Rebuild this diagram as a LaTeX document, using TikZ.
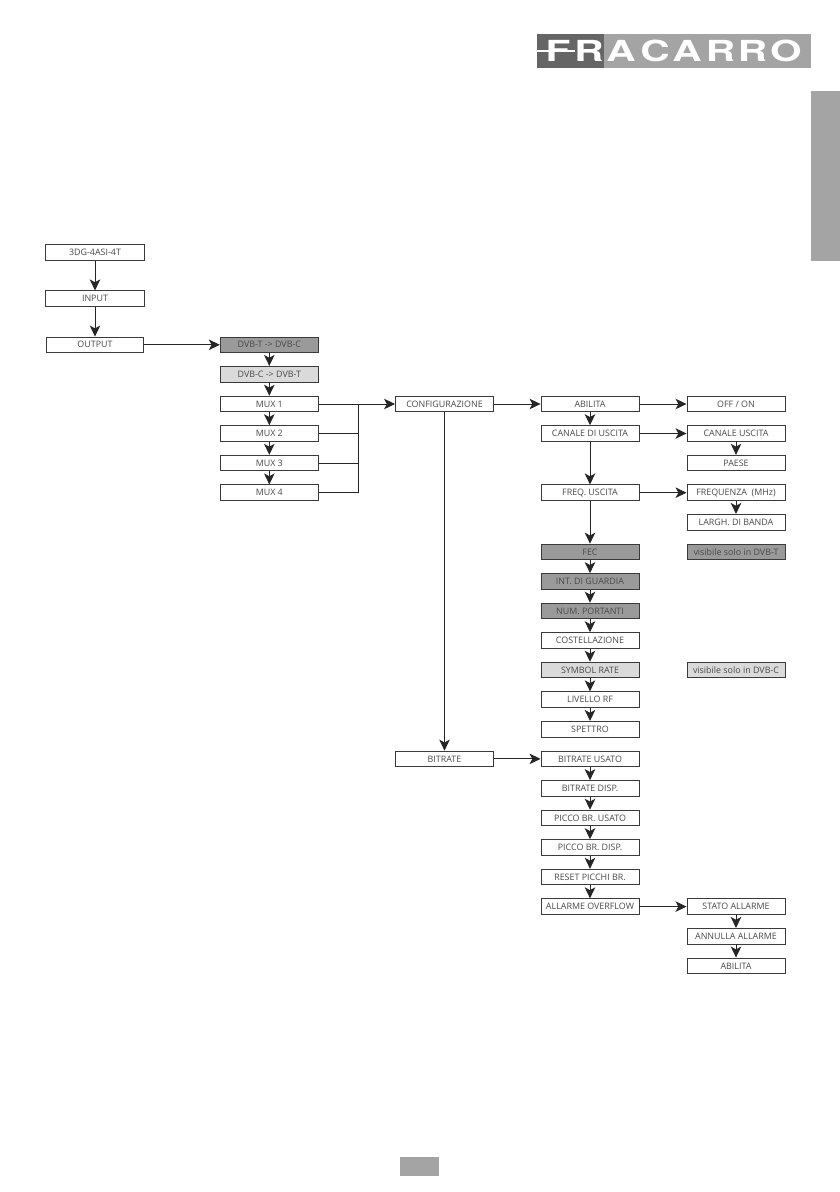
\documentclass[tikz,border=0pt]{standalone}
\usepackage{fontspec}
\setmainfont{Open Sans}
\newfontfamily\logofont{TeX Gyre Heros}
\usetikzlibrary{arrows.meta}
\definecolor{tabgray}{HTML}{A5A4A4}
\definecolor{logodark}{HTML}{666565}
\definecolor{boxline}{HTML}{3A3A3A}
\definecolor{boxtext}{HTML}{4A4A4A}
\definecolor{tgray}{HTML}{9A9A9A}
\definecolor{cgray}{HTML}{DADADA}
\tikzset{
	menubox/.style={draw=boxline, line width=0.9pt, fill=white, text=boxtext, font=\fontsize{8.9}{10}\selectfont, minimum width=98pt, minimum height=15.6pt, inner sep=0pt},
	tbox/.style={menubox, fill=tgray},
	cbox/.style={menubox, fill=cgray},
	wire/.style={draw=black!85, line width=1pt},
	link/.style={wire, -{Stealth[length=11pt, width=10.5pt, inset=2.8pt]}},
	logoletter/.style={text=white, font=\logofont\bfseries\fontsize{29}{29}\selectfont, inner sep=0pt, xscale=1.4}
}
\begin{document}
\begin{tikzpicture}[x=1pt, y=-1pt]
	\useasboundingbox (0, 0) rectangle (840, 1192);
	%%%%% PAGE %%%%%
	\fill[tabgray] (537, 34) rectangle (810.7, 67.7);
	\fill[logodark] (537, 34) rectangle (604, 67.7);
	\foreach \xpos/\letter in {558/F, 589/R, 621/A, 655/C, 687/A, 720.5/R, 752.5/R, 786/O}
		\node[logoletter] at (\xpos, 51.3) {\letter};
	\fill[white] (537, 49.7) rectangle (575, 52.3);
	\fill[tabgray] (811, 91) rectangle (840, 260.7);
	\fill[tabgray] (400, 1157) rectangle (438.7, 1176);

	%%%%% FIRST COLUMN %%%%%
	\node[menubox, minimum width=99.5pt] (model) at (95, 252.4) {3DG-4ASI-4T};
	\node[menubox, minimum width=99.5pt] (input) at (95, 298.7) {INPUT};
	\node[menubox, minimum width=97.5pt] (output) at (95, 344.8) {OUTPUT};

	%%%%% SECOND COLUMN %%%%%
	\node[tbox] (tc) at (269.3, 344.8) {DVB-T -> DVB-C};
	\node[cbox] (ct) at (269.3, 374.2) {DVB-C -> DVB-T};
	\node[menubox] (muxa) at (269.3, 404) {MUX 1};
	\node[menubox] (muxb) at (269.3, 433.5) {MUX 2};
	\node[menubox] (muxc) at (269.3, 463.1) {MUX 3};
	\node[menubox] (muxd) at (269.3, 492.7) {MUX 4};

	%%%%% THIRD COLUMN %%%%%
	\node[menubox] (config) at (444.5, 404) {CONFIGURAZIONE};
	\node[menubox] (bitrate) at (444.5, 758.9) {BITRATE};
	\coordinate (bus) at (358, 404);

	%%%%% FOURTH COLUMN %%%%%
	\node[menubox] (abilita) at (590, 404) {ABILITA};
	\node[menubox] (canale) at (590, 433.5) {CANALE DI USCITA};
	\node[menubox] (freq) at (590, 492.7) {FREQ. USCITA};
	\node[tbox] (fec) at (590, 551.9) {FEC};
	\node[tbox] (guard) at (590, 581.4) {INT. DI GUARDIA};
	\node[tbox] (carrier) at (590, 611) {NUM. PORTANTI};
	\node[menubox] (const) at (590, 640.5) {COSTELLAZIONE};
	\node[cbox] (symbol) at (590, 670) {SYMBOL RATE};
	\node[menubox] (level) at (590, 699.6) {LIVELLO RF};
	\node[menubox] (spectrum) at (590, 729.2) {SPETTRO};
	\node[menubox] (brused) at (590, 758.9) {BITRATE USATO};
	\node[menubox] (brfree) at (590, 788.4) {BITRATE DISP.};
	\node[menubox] (peakused) at (590, 818) {PICCO BR. USATO};
	\node[menubox] (peakfree) at (590, 847.5) {PICCO BR. DISP.};
	\node[menubox] (peakreset) at (590, 877.1) {RESET PICCHI BR.};
	\node[menubox] (overflow) at (590, 906.6) {ALLARME OVERFLOW};

	%%%%% FIFTH COLUMN %%%%%
	\node[menubox] (onoff) at (736, 404) {OFF / ON};
	\node[menubox] (chout) at (736, 433.5) {CANALE USCITA};
	\node[menubox] (country) at (736, 463.1) {PAESE};
	\node[menubox] (freqmhz) at (736, 492.7) {FREQUENZA\ \ (MHz)};
	\node[menubox] (band) at (736, 522.2) {LARGH. DI BANDA};
	\node[tbox] (onlyt) at (736, 551.9) {visibile solo in DVB-T};
	\node[cbox] (onlyc) at (736, 670) {visibile solo in DVB-C};
	\node[menubox] (alarm) at (736, 906.6) {STATO ALLARME};
	\node[menubox] (clear) at (736, 936.2) {ANNULLA ALLARME};
	\node[menubox] (alarmon) at (736, 965.8) {ABILITA};

	%%%%% LINKS %%%%%
	\foreach \from/\to in {model/input, input/output, output/tc, tc/ct, ct/muxa, muxa/muxb, muxb/muxc, muxc/muxd,
		muxa/config, config/bitrate, config/abilita, bitrate/brused,
		abilita/onoff, canale/chout, freq/freqmhz, overflow/alarm,
		abilita/canale, canale/freq, freq/fec, fec/guard, guard/carrier, carrier/const, const/symbol, symbol/level, level/spectrum,
		brused/brfree, brfree/peakused, peakused/peakfree, peakfree/peakreset, peakreset/overflow,
		chout/country, freqmhz/band, alarm/clear, clear/alarmon}
		\draw[link] (\from) -- (\to);
	\foreach \from in {muxb, muxc, muxd}
		\draw[wire] (\from.east) -- (\from.east -| bus) -- (bus);
\end{tikzpicture}
\end{document}
